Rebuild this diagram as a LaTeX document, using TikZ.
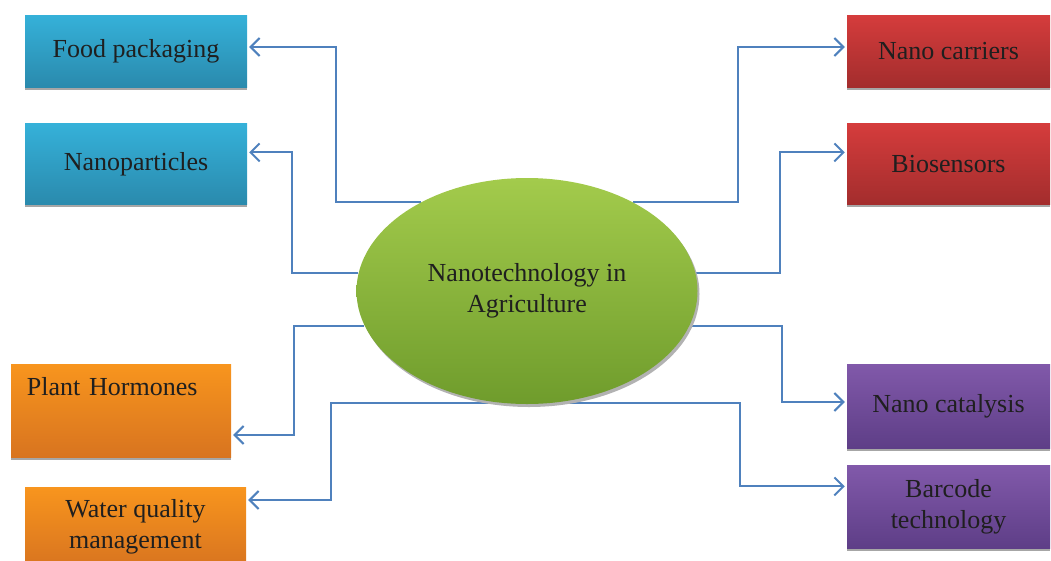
\documentclass[tikz,border=0pt]{standalone}
\usepackage{fontspec}
\setmainfont{Liberation Serif}
\usetikzlibrary{shapes,arrows.meta,positioning,shadows,backgrounds}

\definecolor{linkblue}{HTML}{4F81BD}
\definecolor{bluetop}{HTML}{35B1D9}
\definecolor{bluebot}{HTML}{2A8AAD}
\definecolor{redtop}{HTML}{D53C3C}
\definecolor{redbot}{HTML}{A32D2D}
\definecolor{orangetop}{HTML}{F8951E}
\definecolor{orangebot}{HTML}{D8741F}
\definecolor{purpletop}{HTML}{8159AA}
\definecolor{purplebot}{HTML}{5E3E87}
\definecolor{greentop}{HTML}{A3CB4C}
\definecolor{greenbot}{HTML}{6F9C2C}

\begin{document}
\begin{tikzpicture}[x=1pt, y=-1pt, font=\fontsize{26}{31}\selectfont]
    \tikzset{
        box/.style      =   { rectangle
                            , align=center
                            , text=black!88
                            , inner sep=0pt
                            , drop shadow={shadow xshift=0pt, shadow yshift=-3pt, fill=black!35, opacity=1}
        }
        , bluebox/.style   = { box, top color=bluetop, bottom color=bluebot
                            , minimum width=222pt, minimum height=72pt }
        , redbox/.style    = { box, top color=redtop, bottom color=redbot
                            , minimum width=203pt, minimum height=72pt }
        , orangebox/.style = { box, top color=orangetop, bottom color=orangebot
                            , minimum width=221pt, minimum height=80pt }
        , purplebox/.style = { box, top color=purpletop, bottom color=purplebot
                            , minimum width=203pt, minimum height=84pt }
        , hubnode/.style   = { ellipse
                            , align=center
                            , text=black!88
                            , top color=greentop, bottom color=greenbot
                            , minimum width=341pt, minimum height=226pt
                            , drop shadow={shadow xshift=2pt, shadow yshift=-3pt, fill=black!30, opacity=1}
        }
        , link/.style      = { draw=linkblue
                            , line width=2pt
                            , -{Straight Barb[length=9pt, width=18pt, line width=2pt]}
                            , shorten >= 2pt
        }
    }
    \useasboundingbox (0,0) rectangle (1051,560);

    \node(hub)[hubnode] at (527,291) {Nanotechnology in\\Agriculture};

    \node(food)[bluebox] at (136,51) {Food packaging};
    \node(nanop)[bluebox, minimum height=81pt, below=36pt of food] {Nanoparticles};
    \node(plant)[orangebox, minimum width=220pt, align=left, text width=188pt
                , inner xsep=16pt, text height=31pt, text depth=62pt] at (121,410.5) {Plant Hormones};
    \node(water)[orangebox] at (135.5,527) {Water quality\\management};

    \node(carriers)[redbox] at (948.5,51) {Nano carriers};
    \node(bios)[redbox, minimum height=81pt, below=36pt of carriers] {Biosensors};
    \node(catal)[purplebox] at (948.5,406) {Nano catalysis};
    \node(barcode)[purplebox, minimum height=83pt, below=17pt of catal] {Barcode\\technology};

    \begin{scope}[on background layer]
        \draw[link] (hub.140) -- ++(-85,0)  |- ([yshift=4pt]food.east);
        \draw[link] (hub.174) -- ++(-66,0)  |- ([yshift=11.5pt]nanop.east);
        \draw[link] (hub.192) -- ++(-70,0)  |- ([yshift=-24.5pt]plant.east);
        \draw[link] (hub.258) -- ++(-172,0) |- ([yshift=27pt]water.east);
        \draw[link] (hub.40)  -- ++(105,0)  |- ([yshift=4pt]carriers.west);
        \draw[link] (hub.6)   -- ++(84,0)   |- ([yshift=11.5pt]bios.west);
        \draw[link] (hub.-12) -- ++(92,0)   |- ([yshift=4pt]catal.west);
        \draw[link] (hub.282) -- ++(189,0)  |- ([yshift=20.5pt]barcode.west);
    \end{scope}
\end{tikzpicture}
\end{document}
